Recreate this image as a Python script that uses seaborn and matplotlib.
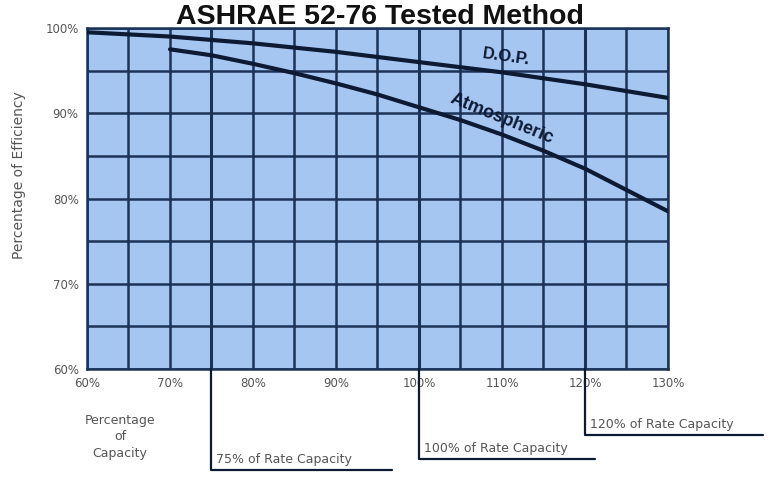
import matplotlib
matplotlib.use("Agg")
import matplotlib.pyplot as plt
import matplotlib.transforms as mtransforms
import numpy as np
import pandas as pd
import seaborn as sns

# ---- data ----
capacity_dop = [60, 70, 80, 90, 100, 110, 120, 130]
eff_dop = [99.5, 99.0, 98.2, 97.2, 96.0, 94.8, 93.4, 91.8]

capacity_atm = [70, 75, 80, 85, 90, 95, 100, 105, 110, 115, 120, 125, 130]
eff_atm = [97.5, 96.8, 95.8, 94.7, 93.5, 92.2, 90.7, 89.2, 87.5, 85.6, 83.5, 81.0, 78.5]

x_ticks = [60, 70, 80, 90, 100, 110, 120, 130]
x_tick_labels = ["60%", "70%", "80%", "90%", "100%", "110%", "120%", "130%"]
y_ticks = [60, 70, 80, 90, 100]
y_tick_labels = ["60%", "70%", "80%", "90%", "100%"]

rate_marks = [75, 100, 120]
rate_labels = ["75% of Rate Capacity", "100% of Rate Capacity", "120% of Rate Capacity"]

title = "ASHRAE 52-76 Tested Method"
series_names = ["D.O.P.", "Atmospheric"]

df = pd.concat([
    pd.DataFrame({"capacity": capacity_dop, "efficiency": eff_dop, "series": series_names[0]}),
    pd.DataFrame({"capacity": capacity_atm, "efficiency": eff_atm, "series": series_names[1]}),
])

# ---- style ----
sns.set_style("white")
plt.rcParams["font.family"] = ["DejaVu Sans"]

cell_color = "#a6c6f2"
grid_color = "#1c3358"
line_color = "#0d1a33"
text_gray = "#555555"

fig = plt.figure(figsize=(7.83, 4.78), dpi=100)
ax_bottom = 1 - 369 / 478
ax = fig.add_axes([87 / 783, ax_bottom, (668 - 87) / 783, (369 - 28) / 478])
ax.set_facecolor(cell_color)

sns.lineplot(data=df, x="capacity", y="efficiency", hue="series",
             palette=[line_color, line_color], linewidth=3.0, legend=False,
             ax=ax, zorder=5)

ax.set_xlim(60, 130)
ax.set_ylim(60, 100)

# grid every 5%
for gx in np.arange(60, 131, 5):
    lw = 2.2 if gx in rate_marks else 1.8
    ax.axvline(gx, color=grid_color, linewidth=lw, zorder=2)
for gy in np.arange(60, 101, 5):
    ax.axhline(gy, color=grid_color, linewidth=1.8, zorder=2)

for s in ax.spines.values():
    s.set_color(grid_color)
    s.set_linewidth(1.8)

ax.set_xticks(x_ticks)
ax.set_xticklabels(x_tick_labels)
ax.set_yticks(y_ticks)
ax.set_yticklabels(y_tick_labels)
ax.tick_params(axis="both", length=0, labelsize=8.5, labelcolor=text_gray, pad=6)
ax.set_xlabel("")
ax.set_ylabel("Percentage of Efficiency", fontsize=10, color=text_gray)
ax.yaxis.set_label_coords(-0.105, 0.57)

# curve labels
ax.text(110.5, 96.6, series_names[0], fontsize=12, fontweight="bold",
        color=line_color, ha="center", va="center", rotation=-8, zorder=6,
        family="Liberation Sans")
ax.text(110.0, 89.4, series_names[1], fontsize=13, fontweight="bold",
        color=line_color, ha="center", va="center", rotation=-22, zorder=6,
        family="Liberation Sans")

# rate capacity brackets below the axes
trans = mtransforms.blended_transform_factory(ax.transData, fig.transFigure)
bracket_y = [1 - 470 / 478, 1 - 459 / 478, 1 - 435 / 478]
bracket_len = [21.7, 21.2, 21.4]
for xm, lab, by, bl in zip(rate_marks, rate_labels, bracket_y, bracket_len):
    ax.plot([xm, xm, xm + bl], [ax_bottom, by, by], transform=trans,
            color=line_color, linewidth=1.6, clip_on=False, zorder=6)
    ax.text(xm + 0.6, by + 0.008, lab, transform=trans, fontsize=9,
            color=text_gray, ha="left", va="bottom")

fig.text(120 / 783, 1 - 437 / 478, "Percentage\nof\nCapacity", fontsize=9,
         color=text_gray, ha="center", va="center", linespacing=1.35)

fig.text(380 / 783, 1 - 24 / 478, title, fontsize=20.5, fontweight="bold",
         color="#111111", ha="center", va="baseline", family="Liberation Sans")

fig.savefig("out.png", dpi=100)
